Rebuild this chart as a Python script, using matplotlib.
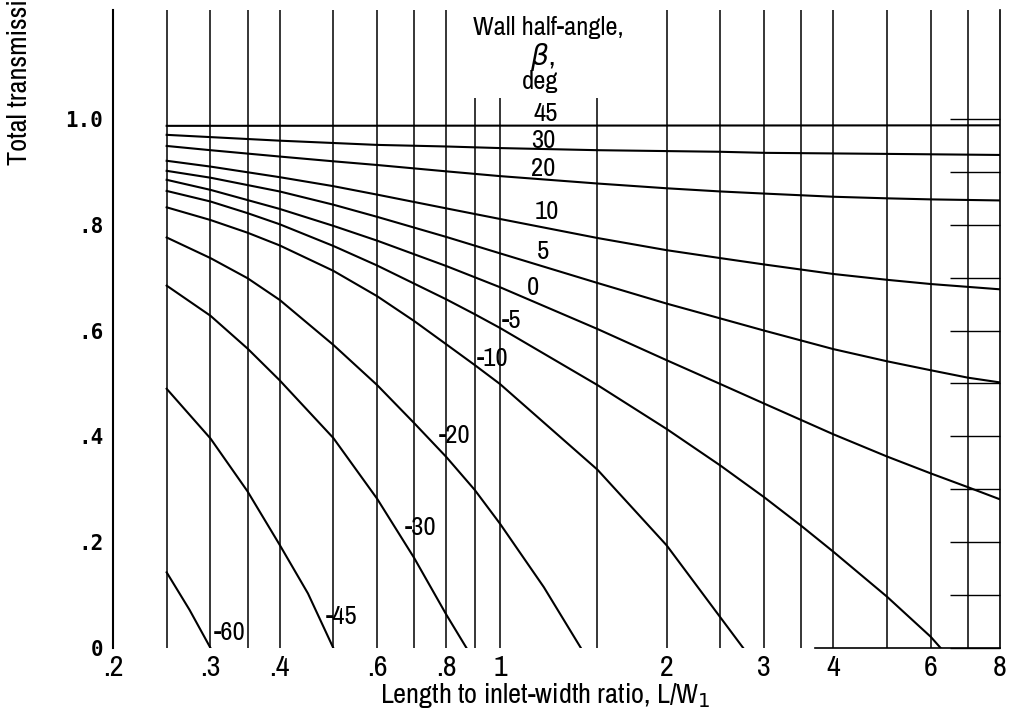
import matplotlib
matplotlib.use("Agg")
import matplotlib.pyplot as plt
from matplotlib import font_manager
from matplotlib.ticker import FixedLocator, NullLocator

# the scan uses a condensed sans; take a narrow one if the machine has it
narrow_family, narrow_stretch = 'DejaVu Sans', 'normal'
for f in font_manager.fontManager.ttflist:
    if f.style != 'normal' or f.weight not in (400, 'normal', 'regular'):
        continue
    if 'Narrow' in f.name or 'Condensed' in f.name:
        narrow_family, narrow_stretch = f.name, 'normal'
        break
    if f.stretch in ('condensed', 'semi-condensed') and f.name == 'DejaVu Sans':
        narrow_family, narrow_stretch = f.name, 'condensed'

plt.rcParams['font.family'] = [narrow_family, 'DejaVu Sans']
plt.rcParams['font.stretch'] = narrow_stretch
condensed = narrow_stretch == 'condensed' or narrow_family != 'DejaVu Sans'
fs = 1.2 if condensed else 0.9

# Total transmission vs L/W1, one curve per wall half-angle (deg)
x_45 = [0.25, 8.0]
y_45 = [0.987, 0.988]
x_30 = [0.25, 0.4, 0.6, 0.8, 1.0, 1.5, 2.5, 3, 5, 8]
y_30 = [0.970, 0.959, 0.951, 0.948, 0.945, 0.941, 0.938, 0.936, 0.934, 0.932]
x_20 = [0.25, 0.3, 0.4, 0.5, 0.6, 0.8, 1.0, 1.5, 2, 2.5, 3, 4, 5, 6, 8]
y_20 = [0.949, 0.941, 0.929, 0.920, 0.913, 0.901, 0.892, 0.878, 0.869, 0.863, 0.859, 0.853, 0.850, 0.848, 0.846]
x_10 = [0.25, 0.3, 0.4, 0.5, 0.6, 0.8, 1.0, 1.5, 2, 2.5, 3, 4, 5, 6, 8]
y_10 = [0.921, 0.910, 0.890, 0.873, 0.857, 0.831, 0.811, 0.775, 0.752, 0.737, 0.725, 0.707, 0.696, 0.688, 0.678]
x_5 = [0.25, 0.3, 0.4, 0.5, 0.6, 0.8, 1.0, 1.5, 2, 2.5, 3, 4, 5, 6, 7, 8]
y_5 = [0.902, 0.889, 0.863, 0.838, 0.815, 0.777, 0.746, 0.690, 0.651, 0.623, 0.600, 0.565, 0.542, 0.525, 0.511, 0.502]
x_0 = [0.25, 0.3, 0.4, 0.5, 0.6, 0.8, 1.0, 1.5, 2, 2.5, 3, 4, 5, 6, 7, 8]
y_0 = [0.885, 0.866, 0.830, 0.798, 0.770, 0.722, 0.682, 0.603, 0.544, 0.499, 0.462, 0.404, 0.362, 0.330, 0.304, 0.281]
x_m5 = [0.25, 0.3, 0.35, 0.4, 0.5, 0.6, 0.8, 0.9, 1.0, 1.5, 2, 2.5, 3, 3.5, 4, 5, 6, 6.25]
y_m5 = [0.864, 0.844, 0.822, 0.801, 0.760, 0.723, 0.659, 0.631, 0.605, 0.497, 0.414, 0.345, 0.285, 0.231, 0.182, 0.097, 0.021, 0.0]
x_m10 = [0.25, 0.3, 0.35, 0.4, 0.5, 0.6, 0.7, 0.8, 0.9, 1.0, 1.5, 2, 2.5, 2.75]
y_m10 = [0.833, 0.809, 0.785, 0.761, 0.713, 0.665, 0.618, 0.574, 0.535, 0.499, 0.337, 0.194, 0.058, 0.0]
x_m20 = [0.25, 0.3, 0.35, 0.4, 0.5, 0.6, 0.7, 0.8, 0.9, 1.0, 1.2, 1.4]
y_m20 = [0.776, 0.737, 0.699, 0.658, 0.573, 0.497, 0.425, 0.361, 0.299, 0.235, 0.115, 0.0]
x_m30 = [0.25, 0.3, 0.35, 0.4, 0.5, 0.6, 0.7, 0.8, 0.87]
y_m30 = [0.685, 0.628, 0.566, 0.506, 0.397, 0.282, 0.170, 0.063, 0.0]
x_m45 = [0.25, 0.3, 0.35, 0.4, 0.45, 0.5]
y_m45 = [0.490, 0.396, 0.296, 0.195, 0.103, 0.0]
x_m60 = [0.25, 0.275, 0.3]
y_m60 = [0.143, 0.072, 0.0]

angle_labels = ['45', '30', '20', '10', '5', '0', '-5', '-10', '-20', '-30', '-45', '-60']
curves_x = [x_45, x_30, x_20, x_10, x_5, x_0, x_m5, x_m10, x_m20, x_m30, x_m45, x_m60]
curves_y = [y_45, y_30, y_20, y_10, y_5, y_0, y_m5, y_m10, y_m20, y_m30, y_m45, y_m60]

# where each angle label sits (data coords)
label_pos = [(1.21, 1.011), (1.196, 0.960), (1.196, 0.907), (1.216, 0.826),
             (1.196, 0.749), (1.147, 0.682), (1.047, 0.620), (0.971, 0.548),
             (0.829, 0.401), (0.720, 0.227), (0.518, 0.060), (0.325, 0.030)]

xticks = [0.2, 0.3, 0.4, 0.6, 0.8, 1, 2, 3, 4, 6, 8]
xticklabels = ['.2', '.3', '.4', '.6', '.8', '1', '2', '3', '4', '6', '8']
yticks = [0, 0.2, 0.4, 0.6, 0.8, 1.0]
yticklabels = ['0', '.2', '.4', '.6', '.8', '1.0']

# log grid lines of the graph paper
grid_full = [0.25, 0.3, 0.35, 0.4, 0.5, 0.6, 0.7, 0.8, 2, 2.5, 3, 3.5, 4, 5, 6, 7]
grid_short = [0.9, 1.0, 1.5]

fig = plt.figure(figsize=(10.13, 7.18), dpi=100)
ax = fig.add_axes([113 / 1013, 1 - 648 / 718, 887 / 1013, 638 / 718])
ax.set_xscale('log')
ax.set_xlim(0.2, 8)
ax.set_ylim(0, 1.206)

ax.vlines(grid_full, 0, 1.206, colors='black', linewidth=1.1)
ax.vlines(grid_short, 0, 1.04, colors='black', linewidth=1.1)

for xs, ys in zip(curves_x, curves_y):
    ax.plot(xs, ys, color='black', linewidth=1.5, zorder=3, solid_joinstyle='round')

for lab, (lx, ly) in zip(angle_labels, label_pos):
    ax.text(lx, ly, lab, fontsize=16 * fs, ha='center', va='center', zorder=4)

ax.text(1.221, 1.172, 'Wall half-angle,', fontsize=16 * fs, ha='center', va='center')
ax.text(1.191, 1.117, r'$\beta$,', fontsize=17 * fs, ha='center', va='center')
ax.text(1.181, 1.070, 'deg', fontsize=16 * fs, ha='center', va='center')

ax.xaxis.set_major_locator(FixedLocator(xticks))
ax.xaxis.set_minor_locator(NullLocator())
ax.set_xticklabels(xticklabels, fontsize=18 * fs)
ax.tick_params(axis='x', length=0, pad=4)

ax.yaxis.set_major_locator(FixedLocator(yticks))
ax.yaxis.set_minor_locator(FixedLocator([0.1, 0.3, 0.5, 0.7, 0.9]))
ax.set_yticklabels(yticklabels, fontsize=15, family='DejaVu Sans Mono', fontweight='bold')
ax.tick_params(axis='y', which='both', left=False, right=True, direction='in',
               length=36, width=1.0, pad=7)

ax.spines['top'].set_visible(False)
ax.spines['left'].set_linewidth(1.5)
ax.spines['right'].set_linewidth(1.2)
ax.spines['bottom'].set_bounds(3.7, 8)
ax.spines['bottom'].set_linewidth(1.2)

fig.text(545 / 1013, 1 - 696 / 718, r'Length to inlet-width ratio, L/W$_1$',
         fontsize=17 * fs, ha='center', va='center')
fig.text(20 / 1013, 1 - 165 / 718, 'Total transmission coefficient',
         fontsize=17 * fs, rotation=90, ha='center', va='bottom')

fig.savefig('out.png', dpi=100)
